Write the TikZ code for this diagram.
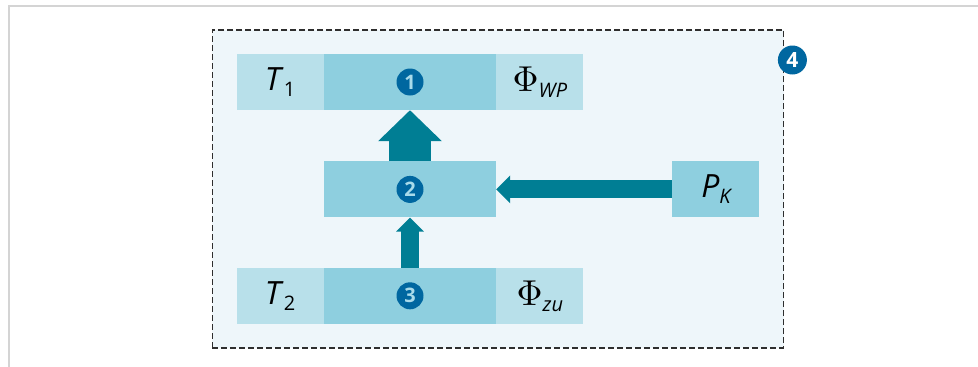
\documentclass[tikz,border=0pt]{standalone}
\usepackage{fontspec}
\setmainfont{Open Sans}
\usetikzlibrary{arrows.meta, positioning, fit, backgrounds}
\definecolor{FrameFill}{HTML}{EEF6FA}
\definecolor{FrameLine}{HTML}{2E2E2E}
\definecolor{CellLight}{HTML}{B8E0EA}
\definecolor{CellMid}{HTML}{8ECFDF}
\definecolor{ArrowTeal}{HTML}{007E94}
\definecolor{BadgeBlue}{HTML}{0067A0}
\definecolor{BadgeText}{HTML}{A8DAEA}
\definecolor{EdgeGray}{HTML}{D4D4D4}
\newcommand\cellsub[1]{\raisebox{-6pt}{\fontsize{20}{20}\selectfont #1}}
\newcommand\bigphi{\scalebox{3.6}{\fontsize{10}{12}\selectfont$\Phi$}}
\tikzset{
  cell/.style={rectangle, inner sep=0pt, minimum height=56pt, minimum width=#1,
               font=\fontsize{32}{36}\selectfont},
  lc/.style={cell=87pt, fill=CellLight},
  mc/.style={cell=#1, fill=CellMid},
  badge/.style={circle, fill=BadgeBlue, text=BadgeText, inner sep=0pt,
                minimum size=27pt, font=\fontsize{20}{20}\selectfont\bfseries},
  flowbig/.style={draw=ArrowTeal, line width=42pt, -{Triangle[width=62pt, length=31pt]}},
  flow/.style={draw=ArrowTeal, line width=18pt, -{Triangle[width=27pt, length=14pt]}},
  frame/.style={rectangle, dashed, dash pattern=on 6pt off 3pt, line width=1.6pt,
                draw=FrameLine, fill=FrameFill, inner sep=24pt},
  edge/.style={draw=EdgeGray, line width=2pt},
}
\begin{document}
\begin{tikzpicture}[x=1pt, y=-1pt]
  \useasboundingbox (0,0) rectangle (978,367);
  \draw[edge] (8,6) -- (978,6);
  \draw[edge] (9,6) -- (9,367);

  % Top row
  \node[mc=172pt] (c1) at (410,82) {};
  \node[lc, left=0pt of c1] (t1) {\textit{T}\cellsub{1}};
  \node[lc, right=0pt of c1] (phiwp) {\bigphi\cellsub{\itshape WP}};

  % Middle row
  \node[mc=172pt, below=51pt of c1] (c2) {};
  \node[mc=87pt, right=176pt of c2] (pk) {\textit{P}\cellsub{\itshape K}};

  % Bottom row
  \node[mc=172pt, below=50pt of c2] (c3) {};
  \node[lc, left=0pt of c3] (t2) {\textit{T}\cellsub{2}};
  \node[lc, right=0pt of c3] (phizu) {\bigphi\cellsub{\itshape zu}};

  % Badges
  \node[badge] (b1) at (c1) {1};
  \node[badge] (b2) at (c2) {2};
  \node[badge] (b3) at (c3) {3};

  % Frame
  \begin{scope}[on background layer]
    \node[frame, fit=(t1)(pk)(t2)] (box) {};
  \end{scope}
  \node[badge, minimum size=29pt, text=white, font=\fontsize{21}{21}\selectfont\bfseries]
    (b4) at ([xshift=8pt, yshift=-31pt]box.north east) {4};

  % Arrows
  \draw[flowbig] (c2.north) -- (c1.south);
  \draw[flow] (c3.north) -- (c2.south);
  \draw[flow] (pk.west) -- (c2.east);

\end{tikzpicture}
\end{document}
